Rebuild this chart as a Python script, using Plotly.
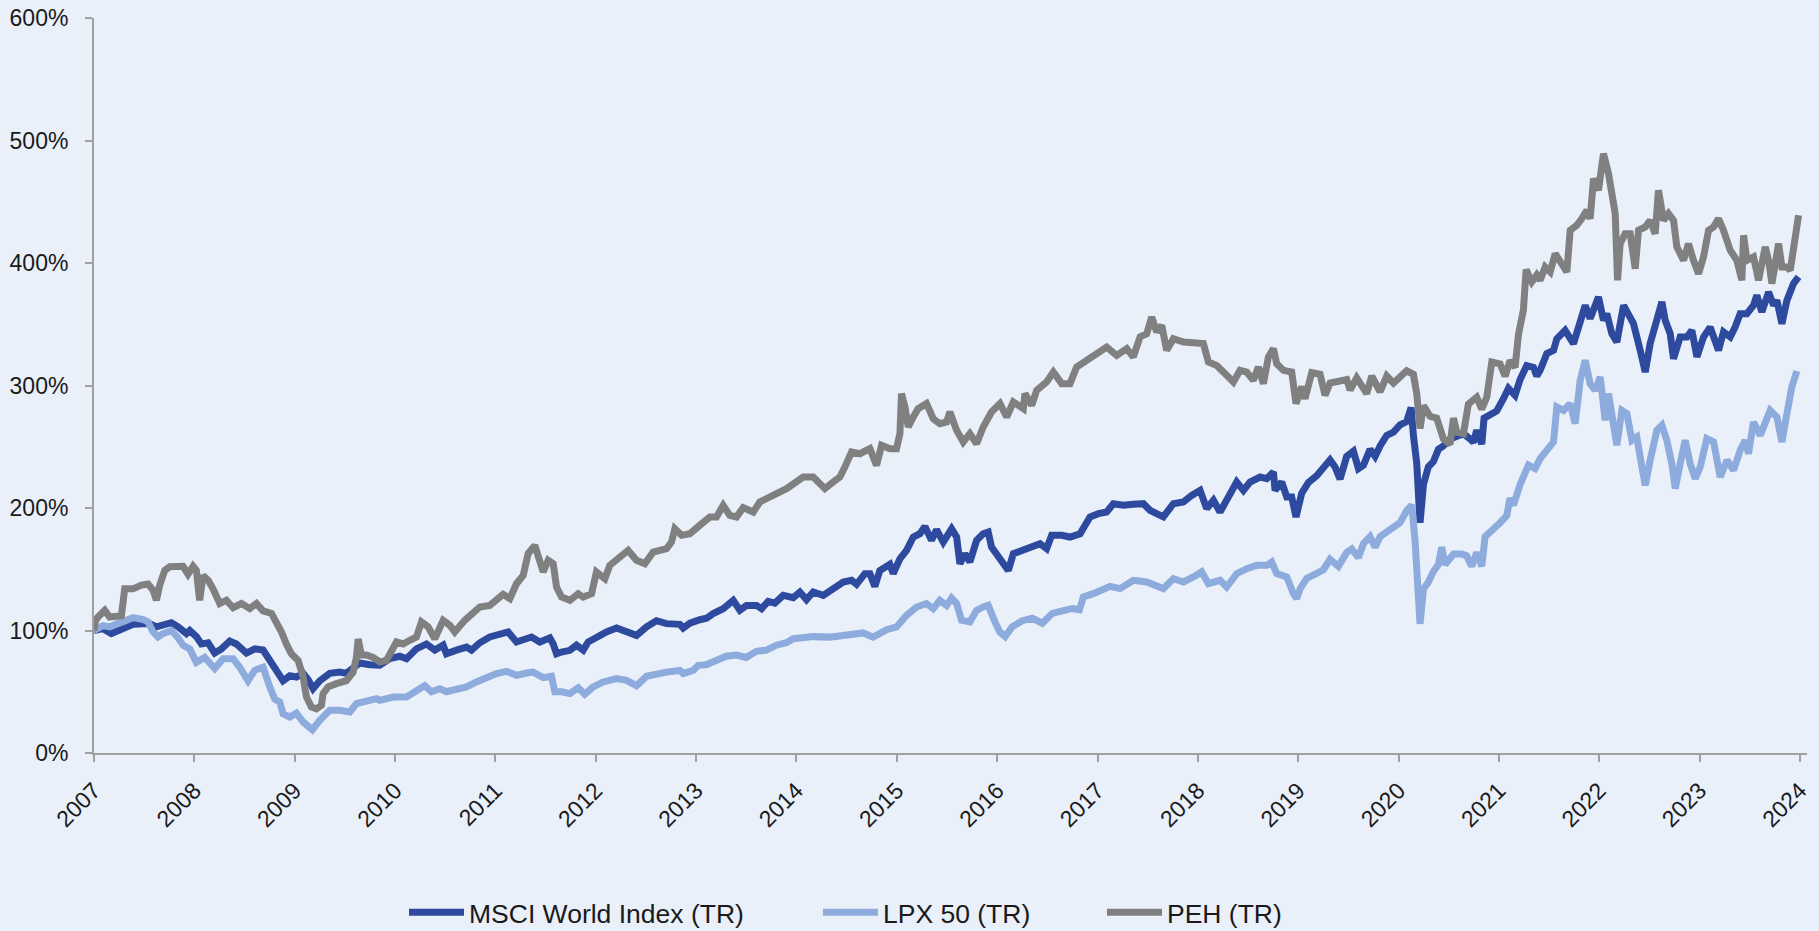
import plotly.graph_objects as go

# ---------------- data ----------------
msci_t = [2007.0, 2007.09, 2007.173, 2007.223, 2007.289, 2007.389, 2007.489, 2007.555, 2007.622, 2007.671,
          2007.771, 2007.838, 2007.921, 2007.954, 2008.02, 2008.07, 2008.137, 2008.203, 2008.27, 2008.353,
          2008.419, 2008.519, 2008.602, 2008.685, 2008.751, 2008.818, 2008.884, 2008.951, 2009.017, 2009.084,
          2009.133, 2009.183, 2009.25, 2009.349, 2009.449, 2009.515, 2009.582, 2009.648, 2009.748, 2009.848,
          2009.948, 2010.047, 2010.114, 2010.213, 2010.313, 2010.396, 2010.479, 2010.512, 2010.612, 2010.712,
          2010.762, 2010.845, 2010.944, 2011.027, 2011.127, 2011.21, 2011.277, 2011.36, 2011.443, 2011.542,
          2011.576, 2011.609, 2011.659, 2011.742, 2011.808, 2011.875, 2011.924, 2012.007, 2012.107, 2012.207,
          2012.306, 2012.406, 2012.506, 2012.605, 2012.705, 2012.838, 2012.871, 2012.938, 2013.037, 2013.104,
          2013.17, 2013.27, 2013.37, 2013.436, 2013.502, 2013.602, 2013.652, 2013.718, 2013.785, 2013.868,
          2013.968, 2014.034, 2014.1, 2014.167, 2014.267, 2014.366, 2014.466, 2014.549, 2014.599, 2014.682,
          2014.732, 2014.781, 2014.831, 2014.931, 2014.964, 2015.031, 2015.097, 2015.164, 2015.23, 2015.28,
          2015.346, 2015.396, 2015.463, 2015.546, 2015.596, 2015.629, 2015.679, 2015.728, 2015.795, 2015.861,
          2015.911, 2015.944, 2016.011, 2016.045, 2016.111, 2016.161, 2016.261, 2016.361, 2016.427, 2016.493,
          2016.543, 2016.643, 2016.726, 2016.826, 2016.859, 2016.925, 2017.008, 2017.091, 2017.158, 2017.258,
          2017.357, 2017.457, 2017.523, 2017.656, 2017.756, 2017.856, 2017.939, 2018.022, 2018.088, 2018.155,
          2018.221, 2018.321, 2018.387, 2018.454, 2018.52, 2018.62, 2018.686, 2018.753, 2018.769, 2018.836,
          2018.886, 2018.935, 2018.978, 2019.035, 2019.101, 2019.184, 2019.251, 2019.317, 2019.367, 2019.417,
          2019.483, 2019.55, 2019.6, 2019.65, 2019.716, 2019.766, 2019.816, 2019.882, 2019.949, 2020.015,
          2020.081, 2020.125, 2020.148, 2020.181, 2020.214, 2020.248, 2020.297, 2020.347, 2020.397, 2020.447,
          2020.513, 2020.58, 2020.646, 2020.713, 2020.746, 2020.779, 2020.829, 2020.852, 2020.912, 2020.978,
          2021.045, 2021.095, 2021.161, 2021.211, 2021.277, 2021.344, 2021.377, 2021.411, 2021.477, 2021.544,
          2021.577, 2021.66, 2021.743, 2021.793, 2021.86, 2021.909, 2021.992, 2022.042, 2022.075, 2022.125,
          2022.175, 2022.242, 2022.291, 2022.341, 2022.408, 2022.458, 2022.507, 2022.574, 2022.624, 2022.657,
          2022.707, 2022.74, 2022.806, 2022.873, 2022.923, 2022.973, 2023.039, 2023.105, 2023.188, 2023.238,
          2023.305, 2023.354, 2023.404, 2023.471, 2023.537, 2023.57, 2023.62, 2023.687, 2023.737, 2023.77,
          2023.82, 2023.87, 2023.936, 2023.986]
msci_v = [100, 101.5, 97.5, 99, 102, 105, 105.6, 105.6, 103, 104,
          106.4, 103, 97.5, 100, 95, 89, 90, 81.6, 85, 91.4,
          89, 81.6, 85, 84, 75.6, 68.8, 59, 63, 62, 65,
          60, 52.5, 59, 65, 66, 65, 70, 73.5, 72, 71.6,
          77, 79, 77, 85, 89, 84, 88, 81, 84, 86.5,
          84, 90, 94.7, 96, 98.8, 90.6, 93, 94.7, 90.6, 94,
          89, 81, 82.4, 83.8, 88, 84, 90.6, 95, 98.8, 102,
          98.8, 96, 103, 108, 105.6, 105, 102, 106, 108.8, 110,
          113.8, 117.8, 124.6, 116.5, 120.5, 120.5, 117.8, 123.8, 122.4, 128.7,
          126.8, 131.4, 125.2, 131.4, 128.7, 134, 139.6, 141, 137.7, 146.4,
          146.4, 136, 149, 154, 146.4, 158.6, 165.4, 176.3, 179, 185,
          173.6, 182.3, 172.2, 183, 176.3, 154.5, 162.7, 156, 173.6, 179,
          180.4, 168.2, 160, 157.3, 149, 162.7, 165.4, 168.2, 170.9, 166.8,
          177.7, 177.7, 176.3, 179, 184.5, 192.7, 195.4, 196.7, 203.5, 202.2,
          203, 203.5, 198.1, 192.7, 203.5, 204.9, 210.3, 214.4, 199.5, 206.3,
          196.7, 211.7, 221.2, 214.4, 221.2, 225.3, 223.9, 229.4, 214.4, 221.2,
          209, 209, 192.7, 212.2, 220.8, 226.4, 233.6, 239.3, 233.6, 223.6,
          242.1, 246.4, 232.2, 235, 247.9, 242.1, 250.7, 259.2, 262, 267.8,
          270.6, 282, 259.2, 236.5, 188, 219.3, 233.6, 237.9, 247.9, 250.7,
          256.4, 259.2, 260.7, 256.4, 253.6, 263.5, 252.1, 273.4, 276.4, 279.2,
          289.2, 297.7, 292, 304.9, 316.3, 314.8, 307.7, 312.4, 326, 328.7,
          338.2, 345, 334.2, 347.7, 365.4, 354.6, 372.3, 353.2, 358.6, 342.3,
          335.5, 365.4, 358.6, 350.5, 328.7, 311, 334.2, 355.9, 368.2, 353.2,
          342.3, 321.9, 339.6, 339.6, 345, 323.3, 339.6, 347.7, 328.7, 343.7,
          339.6, 347.7, 358.6, 358.6, 365.4, 373.6, 360, 376.3, 365.4, 369.5,
          350.5, 369.5, 383.2, 388.6]

lpx_t = [2007.0, 2007.09, 2007.156, 2007.289, 2007.389, 2007.489, 2007.538, 2007.588, 2007.638, 2007.688,
         2007.771, 2007.838, 2007.887, 2007.954, 2008.02, 2008.103, 2008.203, 2008.286, 2008.386, 2008.452,
         2008.535, 2008.602, 2008.685, 2008.751, 2008.801, 2008.851, 2008.884, 2008.951, 2009.017, 2009.084,
         2009.176, 2009.25, 2009.349, 2009.449, 2009.549, 2009.615, 2009.715, 2009.815, 2009.848, 2009.981,
         2010.114, 2010.213, 2010.296, 2010.363, 2010.446, 2010.512, 2010.612, 2010.712, 2010.811, 2010.911,
         2011.011, 2011.11, 2011.21, 2011.31, 2011.376, 2011.476, 2011.559, 2011.592, 2011.659, 2011.742,
         2011.825, 2011.891, 2011.974, 2012.074, 2012.207, 2012.306, 2012.406, 2012.506, 2012.605, 2012.705,
         2012.838, 2012.871, 2012.971, 2013.021, 2013.1, 2013.2, 2013.3, 2013.4, 2013.5, 2013.6,
         2013.7, 2013.8, 2013.9, 2013.968, 2014.167, 2014.333, 2014.566, 2014.665, 2014.765, 2014.898,
         2014.997, 2015.097, 2015.197, 2015.296, 2015.363, 2015.429, 2015.496, 2015.546, 2015.596, 2015.645,
         2015.728, 2015.795, 2015.861, 2015.911, 2015.978, 2016.027, 2016.08, 2016.15, 2016.25, 2016.35,
         2016.45, 2016.55, 2016.65, 2016.75, 2016.82, 2016.859, 2016.958, 2017.125, 2017.224, 2017.357,
         2017.49, 2017.656, 2017.756, 2017.856, 2017.955, 2018.038, 2018.105, 2018.221, 2018.287, 2018.387,
         2018.487, 2018.586, 2018.686, 2018.736, 2018.786, 2018.886, 2018.952, 2018.985, 2019.018, 2019.085,
         2019.184, 2019.251, 2019.317, 2019.4, 2019.483, 2019.533, 2019.6, 2019.65, 2019.716, 2019.766,
         2019.816, 2019.882, 2019.949, 2020.015, 2020.081, 2020.131, 2020.164, 2020.188, 2020.214, 2020.248,
         2020.297, 2020.347, 2020.397, 2020.43, 2020.463, 2020.547, 2020.63, 2020.679, 2020.729, 2020.779,
         2020.829, 2020.862, 2020.945, 2021.012, 2021.078, 2021.111, 2021.145, 2021.211, 2021.294, 2021.36,
         2021.411, 2021.477, 2021.544, 2021.577, 2021.644, 2021.71, 2021.76, 2021.81, 2021.86, 2021.909,
         2021.959, 2022.009, 2022.059, 2022.092, 2022.142, 2022.175, 2022.225, 2022.275, 2022.325, 2022.374,
         2022.408, 2022.458, 2022.507, 2022.574, 2022.624, 2022.673, 2022.723, 2022.757, 2022.806, 2022.856,
         2022.906, 2022.956, 2023.006, 2023.072, 2023.139, 2023.205, 2023.272, 2023.338, 2023.404, 2023.454,
         2023.487, 2023.537, 2023.604, 2023.654, 2023.703, 2023.77, 2023.82, 2023.87, 2023.919, 2023.969]
lpx_v = [100, 104, 103, 107, 110.5, 109, 107, 99, 94.7, 97.4,
         100, 94, 88, 85, 74, 78, 69, 77, 77, 70,
         59, 67.5, 70, 54, 44, 41.6, 32, 29.4, 32.6, 25.3,
         19, 26.7, 34.8, 34.8, 33.5, 40.3, 42, 44.4, 43, 45.7,
         45.7, 51.7, 55, 50, 52.5, 50, 52.5, 54, 58, 62,
         64.8, 66.7, 63.4, 65.3, 66, 61.5, 62.6, 50, 50, 48.5,
         53.3, 48, 54, 58, 60.7, 59.3, 55, 62.6, 64.8, 66,
         67.4, 64.8, 67.4, 71.6, 72, 75, 79, 80, 78, 83,
         84, 88, 90, 93.3, 95, 94.6, 96, 98, 94.6, 100.7,
         102.9, 112.4, 119.2, 122, 117.8, 124.6, 120.5, 126.5, 122, 108.3,
         107, 116.5, 119.2, 120.5, 107, 98.8, 95, 103, 108, 110,
         106, 114, 116, 118, 117, 127.3, 130.1, 136, 134.2, 141,
         139.6, 134.2, 142.3, 139.6, 143.7, 147.8, 138.2, 141, 135.5, 146.4,
         150.5, 153.2, 153.2, 155.9, 146.4, 143.7, 130.1, 126, 133.9, 142.5,
         146.7, 149.6, 158.1, 152.4, 163.8, 166.6, 159.5, 170.9, 176.6, 168,
         176.6, 180.9, 183.7, 188, 197.9, 202.3, 173.8, 133.9, 105.4, 133.9,
         139.5, 148.1, 153.8, 168, 153.8, 162.4, 162.4, 160.9, 152.4, 163.8,
         152.4, 176.6, 182.4, 188, 193.8, 208, 202.3, 219.3, 235, 232.2,
         240.3, 247.1, 253.9, 282.5, 279.7, 285.2, 268.8, 304.2, 320.6, 301.5,
         296, 307, 271.6, 293.4, 263.4, 251.2, 279.7, 277, 255.3, 258,
         241.6, 218.5, 239, 263.4, 267.5, 255.3, 236.2, 215.8, 236.2, 255.3,
         236.2, 224, 233.5, 256.6, 253.9, 225.3, 239, 230.8, 247.1, 255.3,
         244.4, 270.2, 259.3, 270.2, 279.7, 274.3, 253.9, 277, 298.8, 311.8]

peh_t = [2007.0, 2007.015, 2007.04, 2007.107, 2007.156, 2007.223, 2007.273, 2007.306, 2007.389, 2007.472,
         2007.538, 2007.588, 2007.622, 2007.655, 2007.705, 2007.754, 2007.821, 2007.887, 2007.937, 2007.987,
         2008.02, 2008.053, 2008.087, 2008.137, 2008.186, 2008.253, 2008.319, 2008.386, 2008.469, 2008.552,
         2008.618, 2008.685, 2008.768, 2008.818, 2008.867, 2008.917, 2008.967, 2009.034, 2009.084, 2009.117,
         2009.166, 2009.216, 2009.266, 2009.283, 2009.333, 2009.416, 2009.515, 2009.582, 2009.615, 2009.632,
         2009.665, 2009.715, 2009.781, 2009.848, 2009.914, 2010.014, 2010.081, 2010.147, 2010.213, 2010.263,
         2010.33, 2010.396, 2010.479, 2010.546, 2010.595, 2010.695, 2010.762, 2010.845, 2010.944, 2011.011,
         2011.077, 2011.144, 2011.21, 2011.277, 2011.326, 2011.393, 2011.426, 2011.476, 2011.526, 2011.576,
         2011.609, 2011.659, 2011.742, 2011.825, 2011.875, 2011.958, 2012.007, 2012.091, 2012.14, 2012.223,
         2012.323, 2012.406, 2012.489, 2012.572, 2012.705, 2012.755, 2012.788, 2012.855, 2012.938, 2013.037,
         2013.137, 2013.203, 2013.27, 2013.336, 2013.403, 2013.469, 2013.569, 2013.635, 2013.718, 2013.801,
         2013.901, 2013.968, 2014.067, 2014.167, 2014.233, 2014.283, 2014.366, 2014.433, 2014.482, 2014.549,
         2014.632, 2014.732, 2014.798, 2014.848, 2014.931, 2014.997, 2015.031, 2015.047, 2015.081, 2015.114,
         2015.164, 2015.213, 2015.296, 2015.363, 2015.429, 2015.496, 2015.529, 2015.596, 2015.662, 2015.728,
         2015.795, 2015.861, 2015.944, 2016.028, 2016.095, 2016.161, 2016.261, 2016.277, 2016.344, 2016.394,
         2016.493, 2016.56, 2016.643, 2016.726, 2016.792, 2016.892, 2016.992, 2017.091, 2017.191, 2017.291,
         2017.357, 2017.424, 2017.49, 2017.54, 2017.59, 2017.64, 2017.689, 2017.756, 2017.856, 2017.955,
         2018.055, 2018.105, 2018.188, 2018.287, 2018.354, 2018.42, 2018.487, 2018.553, 2018.603, 2018.653,
         2018.703, 2018.753, 2018.786, 2018.852, 2018.935, 2018.978, 2019.035, 2019.068, 2019.135, 2019.218,
         2019.267, 2019.317, 2019.417, 2019.483, 2019.517, 2019.583, 2019.683, 2019.733, 2019.816, 2019.882,
         2019.949, 2020.015, 2020.081, 2020.148, 2020.181, 2020.214, 2020.248, 2020.314, 2020.38, 2020.447,
         2020.513, 2020.547, 2020.58, 2020.646, 2020.696, 2020.779, 2020.829, 2020.879, 2020.929, 2021.012,
         2021.062, 2021.111, 2021.161, 2021.195, 2021.244, 2021.271, 2021.327, 2021.377, 2021.411, 2021.461,
         2021.511, 2021.561, 2021.61, 2021.677, 2021.71, 2021.776, 2021.826, 2021.876, 2021.909, 2021.943,
         2021.992, 2022.009, 2022.042, 2022.092, 2022.125, 2022.159, 2022.182, 2022.208, 2022.258, 2022.308,
         2022.358, 2022.391, 2022.458, 2022.507, 2022.557, 2022.59, 2022.64, 2022.69, 2022.74, 2022.773,
         2022.84, 2022.889, 2022.939, 2022.989, 2023.039, 2023.089, 2023.139, 2023.188, 2023.238, 2023.305,
         2023.371, 2023.421, 2023.438, 2023.471, 2023.537, 2023.587, 2023.654, 2023.687, 2023.72, 2023.753,
         2023.787, 2023.82, 2023.87, 2023.903, 2023.936, 2023.986]
peh_v = [100, 108, 111, 116.4, 111, 112.4, 112, 134, 134, 137,
         138, 133, 124.8, 137, 149, 152, 152, 152.4, 146, 152.4,
         149, 124.6, 145, 141, 134, 122, 124.7, 118.6, 122, 118,
         122, 116, 114, 107, 99, 89, 81, 75.6, 62, 45.7,
         37.6, 36, 38.9, 48.4, 54, 56.6, 59, 66, 78, 93,
         80, 80, 78, 74.3, 75.6, 90.6, 89, 92, 94.7, 107,
         102.9, 93.3, 108.3, 104.2, 98.8, 108.3, 112.4, 119.2, 120.5, 126,
         129.5, 126, 138.2, 145, 162.7, 169.5, 161.4, 147.8, 157.3, 154.5,
         135.5, 127.3, 124.6, 130, 127.3, 130, 147.8, 142.3, 153.2, 158.6,
         165.4, 157.3, 154.5, 164, 166.8, 172.2, 183, 177.7, 179, 185.9,
         192.7, 192.7, 202.2, 194, 192.7, 200.3, 196.7, 204.9, 207.6, 211.7,
         215.8, 219.9, 225.3, 225.3, 219.9, 215.8, 221.2, 225.3, 233.4, 245.7,
         244.3, 248.4, 234.8, 251.2, 248.4, 248.4, 260.7, 293.3, 282.5, 266.1,
         274.3, 281.1, 285.2, 272.9, 268.8, 270.2, 278.4, 263.4, 253.9, 260.7,
         252.5, 266.1, 278.4, 285.2, 274.3, 286.5, 281.1, 293.4, 283.8, 296,
         302.9, 311, 301.5, 301.5, 315.1, 320.5, 327.4, 331.4, 324.6, 330.1,
         323.3, 339.6, 342.3, 355.9, 343.7, 349.1, 328.7, 338.2, 335.5, 335.5,
         334.2, 319.2, 316.4, 308.3, 302.9, 312.4, 311, 304.2, 315.1, 301.5,
         323.3, 330.1, 317.8, 312.4, 311, 285.2, 299.1, 289.2, 310.5, 309.1,
         292, 302, 303.4, 304.9, 296.3, 306.2, 293.4, 307.7, 294.9, 307.7,
         302, 307.7, 312, 309.1, 293.4, 265, 283.5, 274.9, 273.4, 256.4,
         252.1, 273.4, 262, 260.7, 284.9, 290.5, 280.6, 290.5, 319.1, 317.6,
         307.7, 320.4, 314.8, 341.8, 361.7, 394.6, 384.6, 390.3, 385.9, 396.7,
         392.7, 407.6, 402.2, 392.7, 426.7, 430.8, 436.2, 443, 436.2, 468.9,
         459.4, 471.6, 489.3, 473, 459.4, 440.3, 385.9, 415.8, 423.9, 423.9,
         395.4, 426.7, 429.4, 434.8, 423.9, 459.4, 434.8, 440.3, 434.8, 413.1,
         402.2, 415.8, 402.2, 391.3, 405, 426.7, 429.4, 436.2, 426.7, 410.4,
         402.2, 385.9, 422.6, 402.2, 405, 385.9, 413.1, 402.2, 383.2, 396.7,
         415.8, 396.7, 396.7, 394, 410.4, 438.9]

series_names = ["MSCI World Index (TR)", "LPX 50 (TR)", "PEH (TR)"]
year_ticks = list(range(2007, 2025))
year_labels = [str(y) for y in year_ticks]
y_ticks = [0, 100, 200, 300, 400, 500, 600]

# ---------------- styling ----------------
BG = "#E9F0FA"
AXIS = "#A0A0A0"
colors = ["#2E4A9E", "#8EABDD", "#808080"]
FONT = "Liberation Sans, Arial, sans-serif"

fig = go.Figure()
series = [(msci_t, msci_v), (lpx_t, lpx_v), (peh_t, peh_v)]
legend_ids = ["legend", "legend2", "legend3"]
for (t, v), name, c, lg in zip(series, series_names, colors, legend_ids):
    fig.add_trace(go.Scatter(x=t, y=v, mode="lines", name=name, legend=lg,
                             line=dict(color=c, width=7, shape="linear")))

W, H = 1819, 931
L, R, T, B = 94, 12, 18, 178
pw = W - L - R

def px_to_paper(px):
    return (px - L) / pw

legend_common = dict(orientation="h", yanchor="middle", y=-0.217, xanchor="left",
                     font=dict(family=FONT, size=26.5, color="#1a1a1a"),
                     bgcolor="rgba(0,0,0,0)", itemwidth=55, traceorder="normal")

fig.update_layout(
    width=W, height=H,
    margin=dict(l=L, r=R, t=T, b=B, autoexpand=False),
    paper_bgcolor=BG, plot_bgcolor=BG,
    font=dict(family=FONT, size=23, color="#1a1a1a"),
    showlegend=True,
    legend=dict(x=px_to_paper(404), **legend_common),
    legend2=dict(x=px_to_paper(818), **legend_common),
    legend3=dict(x=px_to_paper(1102), **legend_common),
    xaxis=dict(range=[2007, 2024.07], tickmode="array", tickvals=year_ticks, ticktext=year_labels,
               tickangle=-45, showline=True, linecolor=AXIS, linewidth=2, ticks="outside",
               ticklen=7, tickwidth=2, tickcolor=AXIS, showgrid=False, zeroline=False,
               tickfont=dict(family=FONT, size=23, color="#1a1a1a"), ticklabelstandoff=6),
    yaxis=dict(range=[0, 600], tickmode="array", tickvals=y_ticks,
               ticktext=[f"{v}%" for v in y_ticks],
               showline=True, linecolor=AXIS, linewidth=2, ticks="outside", ticklen=7,
               tickwidth=2, tickcolor=AXIS, showgrid=False, zeroline=False,
               tickfont=dict(family=FONT, size=23, color="#1a1a1a"), ticklabelstandoff=12),
)

page_fix = ("document.body.style.margin='0';document.body.style.padding='0';"
            "document.body.style.overflow='hidden';"
            "document.body.style.background='" + BG + "';")
fig.write_html("out.html", post_script=page_fix, config={"displayModeBar": False})
